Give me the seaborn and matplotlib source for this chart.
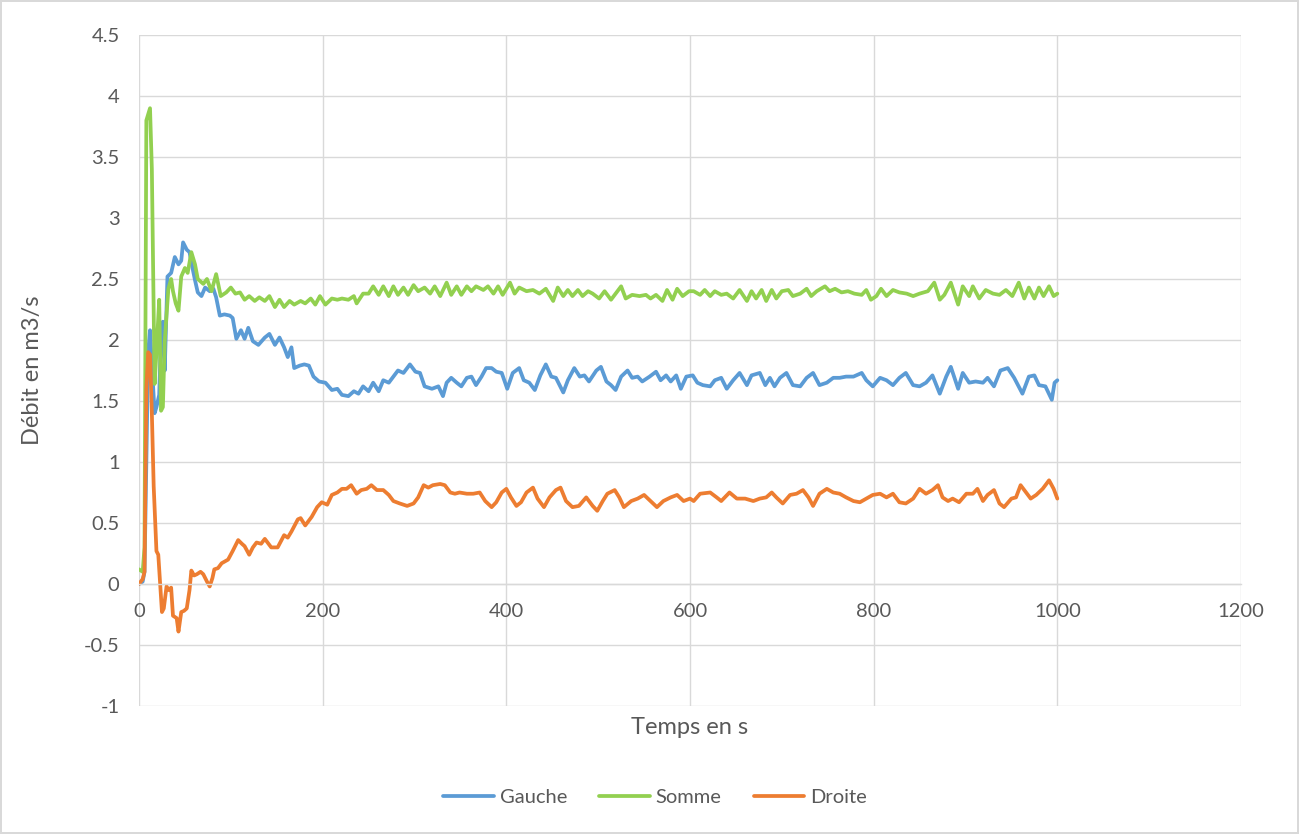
import numpy as np
import pandas as pd
import matplotlib
matplotlib.use("Agg")
import matplotlib.pyplot as plt
import seaborn as sns

# ---------------------------------------------
# DATA
# ---------------------------------------------

t_gauche = [0, 4, 6, 8, 10, 12, 14, 17, 19, 22, 24, 26, 28, 31, 35, 39, 43, 46, 48, 52,
            55, 58, 61, 64, 68, 72, 77, 81, 84, 88, 93, 99, 102, 106, 111, 115, 119, 124, 130, 137,
            142, 148, 153, 158, 162, 166, 169, 175, 180, 185, 190, 196, 203, 210, 216, 221, 228, 234, 239, 244,
            250, 255, 261, 266, 272, 277, 282, 288, 295, 301, 306, 311, 319, 326, 331, 335, 340, 346, 351, 357,
            362, 367, 373, 378, 384, 389, 395, 401, 407, 414, 419, 425, 431, 437, 443, 449, 454, 462, 467, 474,
            480, 485, 490, 498, 503, 509, 514, 519, 525, 532, 537, 543, 548, 556, 563, 568, 574, 579, 585, 590,
            596, 603, 608, 614, 622, 627, 634, 640, 647, 654, 662, 667, 676, 682, 687, 692, 698, 705, 712, 720,
            727, 734, 741, 749, 756, 763, 770, 778, 787, 792, 799, 807, 814, 821, 828, 835, 843, 850, 857, 864,
            872, 879, 884, 892, 897, 904, 911, 919, 924, 931, 938, 946, 953, 962, 969, 975, 980, 987, 994, 997,
            1000]
gauche = [0.0, 0.02, 0.1, 1.0, 1.9, 2.08, 1.8, 1.4, 1.45, 1.55, 2.05, 2.15, 1.75, 2.52, 2.55, 2.68, 2.62, 2.65, 2.8, 2.74,
          2.72, 2.6, 2.49, 2.39, 2.36, 2.43, 2.4, 2.42, 2.35, 2.2, 2.21, 2.2, 2.18, 2.01, 2.08, 2.01, 2.1, 1.99, 1.96, 2.02,
          2.05, 1.96, 2.02, 1.94, 1.86, 1.94, 1.77, 1.79, 1.80, 1.79, 1.70, 1.66, 1.65, 1.59, 1.60, 1.55, 1.54, 1.58, 1.56, 1.62,
          1.58, 1.65, 1.58, 1.67, 1.65, 1.70, 1.75, 1.73, 1.80, 1.74, 1.73, 1.62, 1.60, 1.62, 1.54, 1.65, 1.69, 1.65, 1.62, 1.69,
          1.70, 1.63, 1.70, 1.77, 1.77, 1.74, 1.73, 1.60, 1.73, 1.77, 1.67, 1.65, 1.59, 1.71, 1.80, 1.70, 1.69, 1.57, 1.67, 1.77,
          1.70, 1.71, 1.66, 1.75, 1.78, 1.66, 1.63, 1.59, 1.70, 1.75, 1.69, 1.70, 1.66, 1.70, 1.74, 1.67, 1.71, 1.66, 1.71, 1.60,
          1.70, 1.71, 1.65, 1.63, 1.62, 1.67, 1.69, 1.60, 1.67, 1.73, 1.63, 1.71, 1.73, 1.63, 1.69, 1.62, 1.69, 1.73, 1.63, 1.62,
          1.69, 1.73, 1.63, 1.65, 1.69, 1.69, 1.70, 1.70, 1.73, 1.67, 1.62, 1.69, 1.67, 1.63, 1.69, 1.73, 1.63, 1.62, 1.65, 1.71,
          1.56, 1.70, 1.78, 1.60, 1.73, 1.65, 1.66, 1.65, 1.69, 1.62, 1.75, 1.77, 1.69, 1.56, 1.70, 1.71, 1.63, 1.62, 1.51, 1.65,
          1.67]

t_somme = [0, 4, 6, 8, 10, 12, 14, 16, 17, 19, 22, 24, 26, 28, 32, 35, 37, 40, 43, 46,
           50, 53, 57, 61, 64, 70, 74, 79, 84, 89, 95, 100, 105, 110, 115, 120, 126, 131, 137, 142,
           148, 153, 158, 164, 169, 176, 181, 187, 192, 197, 203, 210, 216, 221, 228, 234, 237, 244, 250, 255,
           261, 266, 272, 277, 282, 288, 293, 299, 304, 311, 317, 322, 328, 335, 340, 346, 351, 357, 362, 367,
           375, 380, 386, 391, 396, 404, 409, 414, 422, 429, 436, 443, 451, 456, 462, 467, 472, 478, 483, 489,
           494, 501, 507, 514, 519, 525, 530, 537, 545, 552, 557, 563, 570, 575, 581, 586, 592, 599, 604, 611,
           616, 622, 627, 634, 640, 647, 654, 662, 667, 672, 678, 683, 689, 694, 700, 707, 712, 720, 727, 732,
           738, 747, 752, 758, 765, 772, 779, 787, 792, 797, 803, 808, 814, 821, 828, 836, 843, 850, 859, 866,
           872, 877, 884, 892, 897, 904, 908, 915, 922, 930, 937, 944, 951, 958, 964, 969, 975, 980, 985, 991,
           996, 1000]
somme = [0.12, 0.1, 0.3, 3.8, 3.85, 3.9, 3.4, 2.2, 1.64, 1.9, 2.33, 1.42, 1.45, 1.99, 2.42, 2.5, 2.4, 2.3, 2.24, 2.52,
         2.59, 2.55, 2.72, 2.62, 2.5, 2.46, 2.5, 2.4, 2.54, 2.36, 2.39, 2.43, 2.38, 2.39, 2.33, 2.36, 2.32, 2.35, 2.32, 2.36,
         2.27, 2.33, 2.27, 2.32, 2.29, 2.32, 2.30, 2.34, 2.29, 2.36, 2.29, 2.34, 2.33, 2.34, 2.33, 2.36, 2.30, 2.38, 2.38, 2.44,
         2.37, 2.44, 2.36, 2.44, 2.37, 2.43, 2.37, 2.45, 2.40, 2.43, 2.38, 2.44, 2.36, 2.47, 2.37, 2.44, 2.37, 2.44, 2.40, 2.44,
         2.41, 2.44, 2.38, 2.44, 2.37, 2.47, 2.38, 2.43, 2.40, 2.41, 2.38, 2.42, 2.32, 2.43, 2.36, 2.41, 2.36, 2.41, 2.36, 2.40,
         2.38, 2.34, 2.40, 2.33, 2.38, 2.44, 2.34, 2.37, 2.36, 2.37, 2.34, 2.37, 2.32, 2.41, 2.33, 2.42, 2.36, 2.40, 2.40, 2.37,
         2.41, 2.36, 2.40, 2.37, 2.38, 2.34, 2.41, 2.32, 2.40, 2.34, 2.41, 2.32, 2.41, 2.34, 2.40, 2.41, 2.36, 2.38, 2.42, 2.36,
         2.40, 2.44, 2.40, 2.42, 2.39, 2.40, 2.38, 2.37, 2.41, 2.33, 2.36, 2.42, 2.36, 2.41, 2.39, 2.38, 2.36, 2.38, 2.40, 2.47,
         2.33, 2.37, 2.47, 2.29, 2.44, 2.36, 2.44, 2.34, 2.41, 2.38, 2.37, 2.41, 2.36, 2.47, 2.34, 2.43, 2.34, 2.43, 2.36, 2.44,
         2.36, 2.38]

t_droite = [0, 4, 6, 8, 10, 12, 14, 16, 19, 21, 23, 25, 27, 30, 32, 35, 37, 41, 43, 46,
            49, 52, 55, 57, 60, 63, 67, 70, 74, 77, 80, 82, 86, 90, 97, 102, 108, 112, 115, 120,
            124, 128, 133, 137, 144, 151, 158, 162, 166, 173, 176, 181, 188, 194, 199, 205, 210, 216, 221, 226,
            231, 237, 242, 248, 253, 259, 266, 272, 277, 284, 292, 299, 304, 310, 315, 320, 328, 333, 339, 344,
            349, 357, 364, 371, 377, 384, 389, 395, 400, 405, 411, 416, 422, 429, 434, 441, 447, 454, 459, 465,
            472, 479, 487, 494, 499, 505, 510, 518, 523, 528, 536, 543, 550, 557, 564, 571, 579, 586, 593, 600,
            604, 611, 622, 629, 634, 643, 651, 660, 669, 676, 683, 689, 694, 701, 709, 716, 723, 729, 734, 741,
            749, 756, 763, 770, 778, 785, 792, 799, 807, 814, 821, 828, 835, 843, 850, 857, 864, 870, 875, 881,
            886, 893, 901, 908, 913, 919, 924, 931, 937, 942, 950, 955, 960, 966, 971, 977, 984, 991, 996, 1000]
droite = [0.0, 0.04, 0.1, 1.6, 1.9, 1.88, 1.4, 0.8, 0.27, 0.24, 0.0, -0.23, -0.2, -0.02, -0.05, -0.03, -0.26, -0.28, -0.39, -0.23,
          -0.22, -0.2, -0.05, 0.11, 0.07, 0.08, 0.1, 0.08, 0.02, -0.02, 0.05, 0.12, 0.13, 0.17, 0.2, 0.27, 0.36, 0.33, 0.31, 0.24,
          0.3, 0.34, 0.33, 0.37, 0.30, 0.30, 0.40, 0.38, 0.43, 0.53, 0.54, 0.48, 0.55, 0.63, 0.67, 0.65, 0.73, 0.75, 0.78, 0.78,
          0.81, 0.74, 0.77, 0.78, 0.81, 0.77, 0.77, 0.73, 0.68, 0.66, 0.64, 0.66, 0.71, 0.81, 0.79, 0.81, 0.82, 0.81, 0.75, 0.74,
          0.75, 0.74, 0.74, 0.75, 0.68, 0.63, 0.67, 0.75, 0.78, 0.71, 0.64, 0.67, 0.75, 0.79, 0.70, 0.63, 0.71, 0.77, 0.79, 0.68,
          0.63, 0.64, 0.71, 0.64, 0.60, 0.68, 0.74, 0.77, 0.71, 0.63, 0.68, 0.70, 0.73, 0.68, 0.63, 0.68, 0.71, 0.73, 0.68, 0.70,
          0.68, 0.74, 0.75, 0.71, 0.68, 0.75, 0.70, 0.70, 0.68, 0.70, 0.71, 0.75, 0.71, 0.66, 0.73, 0.74, 0.77, 0.71, 0.64, 0.74,
          0.78, 0.75, 0.74, 0.71, 0.68, 0.67, 0.70, 0.73, 0.74, 0.71, 0.74, 0.67, 0.66, 0.70, 0.78, 0.74, 0.77, 0.81, 0.71, 0.68,
          0.70, 0.67, 0.74, 0.74, 0.78, 0.68, 0.73, 0.77, 0.66, 0.63, 0.70, 0.71, 0.81, 0.75, 0.70, 0.73, 0.78, 0.85, 0.78, 0.70]

series_names = ["Gauche", "Somme", "Droite"]
series_colors = ["#5B9BD5", "#92D050", "#ED7D31"]

x_ticks = [0, 200, 400, 600, 800, 1000, 1200]
y_ticks = [-1, -0.5, 0, 0.5, 1, 1.5, 2, 2.5, 3, 3.5, 4, 4.5]
y_tick_labels = ["-1", "-0.5", "0", "0.5", "1", "1.5", "2", "2.5", "3", "3.5", "4", "4.5"]

# ---------------------------------------------
# BUILD TABLE
# ---------------------------------------------

df = pd.concat([
    pd.DataFrame({"Temps": t_gauche, "Debit": gauche, "Serie": "Gauche"}),
    pd.DataFrame({"Temps": t_somme, "Debit": somme, "Serie": "Somme"}),
    pd.DataFrame({"Temps": t_droite, "Debit": droite, "Serie": "Droite"}),
], ignore_index=True)

# ---------------------------------------------
# PLOT
# ---------------------------------------------

sns.set_theme(style="white")
plt.rcParams["font.family"] = ["Lato", "DejaVu Sans"]
text_color = "#595959"
grid_color = "#D9D9D9"

fig, ax = plt.subplots(figsize=(12.99, 8.34), dpi=100)
fig.subplots_adjust(left=139/1299, right=1241/1299, top=1-35/834, bottom=1-706/834)

sns.lineplot(
    data=df, x="Temps", y="Debit", hue="Serie",
    hue_order=series_names, palette=dict(zip(series_names, series_colors)),
    estimator=None, sort=False, linewidth=2.7, ax=ax,
    solid_joinstyle="round", solid_capstyle="round"
)

ax.set_xlim(0, 1200)
ax.set_ylim(-1, 4.5)
ax.set_xticks(x_ticks)
ax.set_xticklabels([str(v) for v in x_ticks])
ax.set_yticks(y_ticks)
ax.set_yticklabels(y_tick_labels)
ax.grid(True, color=grid_color, linewidth=1.0)
ax.set_axisbelow(True)

for side in ["top", "right", "left"]:
    ax.spines[side].set_visible(False)
ax.spines["bottom"].set_position(("data", 0))
ax.spines["bottom"].set_color(grid_color)
ax.spines["bottom"].set_linewidth(1.0)

ax.tick_params(axis="both", length=0, labelsize=14.5, labelcolor=text_color)
ax.tick_params(axis="x", pad=14)
ax.tick_params(axis="y", pad=14)

ax.set_xlabel("")
ax.set_ylabel("")
fig.text(690/1299, 1-727/834, "Temps en s", ha="center", va="center",
         fontsize=17, color=text_color)
fig.text(33/1299, 1-370/834, "Débit en m3/s", ha="center", va="center",
         rotation=90, fontsize=17, color=text_color)

sns.move_legend(ax, "center", bbox_to_anchor=((655-139)/1102, (706-797)/671),
                ncol=3, frameon=False, title=None, fontsize=14.5,
                handlelength=2.5, columnspacing=1.6, handletextpad=0.3,
                labelcolor=text_color)

fig.patch.set_edgecolor(grid_color)
fig.patch.set_linewidth(1.5)

plt.savefig("out.png", dpi=100)
